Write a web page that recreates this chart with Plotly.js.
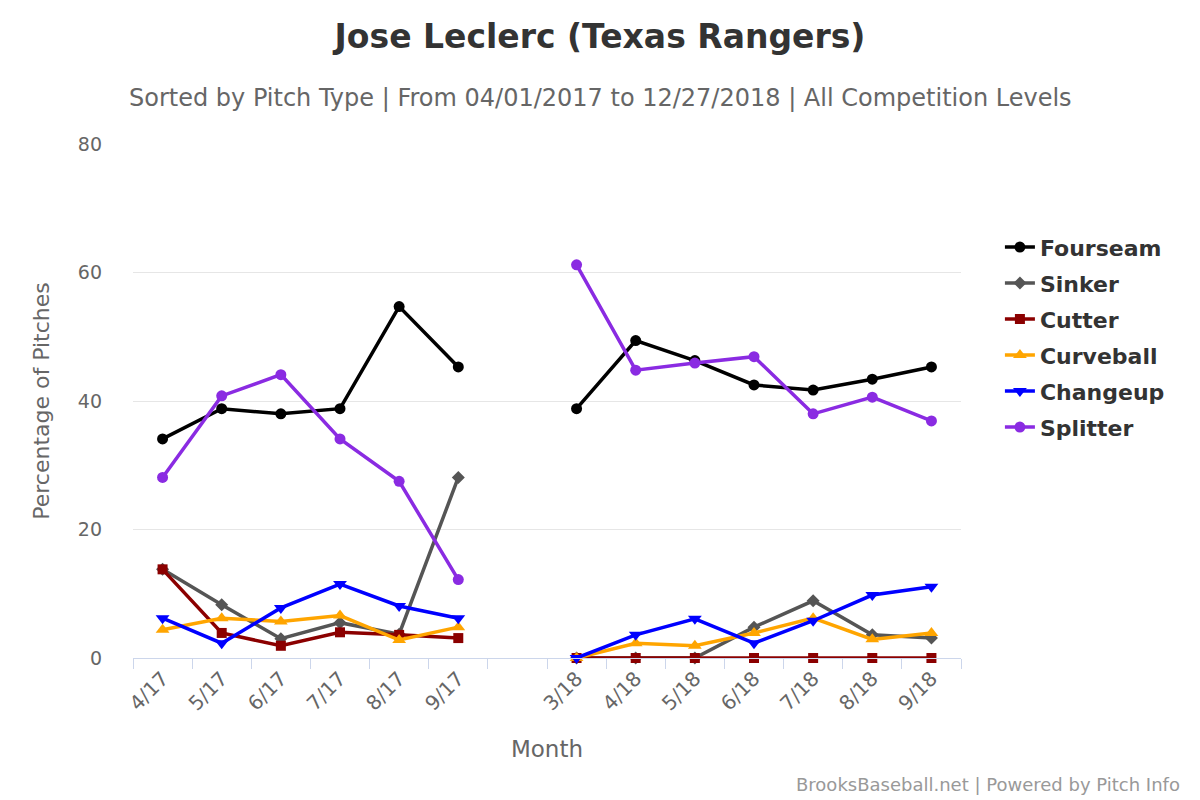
<!DOCTYPE html>
<html>
<head>
<meta charset="utf-8">
<script src="https://cdn.plot.ly/plotly-3.0.1.min.js"></script>
<style>
  body { margin: 0; background: #fff; }
  #chart { width: 1200px; height: 800px; }
</style>
</head>
<body>
<div id="chart"></div>
<script>
// months, with an empty slot between the two seasons
var months = ['4/17', '5/17', '6/17', '7/17', '8/17', '9/17', ' ',
              '3/18', '4/18', '5/18', '6/18', '7/18', '8/18', '9/18'];

var fourseam  = [34.1, 38.8, 38.0, 38.8, 54.7, 45.3, null, 38.8, 49.4, 46.3, 42.5, 41.7, 43.4, 45.3];
var sinker    = [13.8, 8.3, 3.0, 5.5, 3.7, 28.1, null, 0, 0, 0, 4.8, 8.9, 3.6, 3.1];
var cutter    = [13.8, 3.9, 1.9, 4.0, 3.6, 3.1, null, 0, 0, 0, 0, 0, 0, 0];
var curveball = [4.4, 6.2, 5.7, 6.6, 2.8, 4.8, null, 0, 2.3, 1.9, 3.9, 6.2, 2.9, 3.9];
var changeup  = [6.2, 2.3, 7.8, 11.5, 8.1, 6.2, null, 0, 3.6, 6.1, 2.3, 5.8, 9.8, 11.1];
var splitter  = [28.1, 40.8, 44.1, 34.1, 27.5, 12.2, null, 61.2, 44.8, 45.9, 46.9, 38.0, 40.6, 36.9];

var FONT = 'DejaVu Sans, sans-serif';

function series(name, values, color, symbol, size) {
    return {
        type: 'scatter',
        mode: 'lines+markers',
        name: name,
        legendgroup: name,
        x: months,
        y: values,
        cliponaxis: false,
        connectgaps: false,
        line: { color: color, width: 3.5 },
        marker: { color: color, symbol: symbol, size: size }
    };
}

var data = [
    series('Fourseam', fourseam, '#000000', 'circle', 11),
    series('Sinker', sinker, '#555555', 'diamond', 10),
    series('Cutter', cutter, '#8b0000', 'square', 10),
    series('Curveball', curveball, '#ffa500', 'triangle-up', 12),
    series('Changeup', changeup, '#0000ff', 'triangle-down', 12),
    series('Splitter', splitter, '#8a2be2', 'circle', 11)
];

var layout = {
    width: 1200,
    height: 800,
    margin: { l: 133, r: 239, t: 144, b: 142 },
    paper_bgcolor: '#ffffff',
    plot_bgcolor: '#ffffff',
    font: { family: FONT, color: '#666666' },
    title: {
        text: '<b>Jose Leclerc (Texas Rangers)</b>',
        font: { family: FONT, size: 33, color: '#333333' },
        x: 0.5, xref: 'container', xanchor: 'center',
        y: 0.954, yref: 'container', yanchor: 'middle'
    },
    xaxis: {
        type: 'category',
        categoryorder: 'array',
        categoryarray: months,
        range: [-0.5, months.length - 0.5],
        tickson: 'boundaries',
        ticks: 'outside',
        ticklen: 10,
        tickcolor: '#ccd6eb',
        tickwidth: 1,
        showline: true,
        linecolor: '#ccd6eb',
        linewidth: 1,
        showgrid: false,
        zeroline: false,
        tickangle: -45,
        tickfont: { family: FONT, size: 20, color: '#666666' },
        title: { text: 'Month', font: { family: FONT, size: 23, color: '#666666' }, standoff: 26 },
        fixedrange: true
    },
    yaxis: {
        range: [0, 80],
        tickvals: [0, 20, 40, 60, 80],
        showgrid: true,
        gridcolor: '#e6e6e6',
        gridwidth: 1,
        zeroline: false,
        showline: false,
        ticks: '',
        ticklabelstandoff: 30,
        tickfont: { family: FONT, size: 19, color: '#666666' },
        title: { text: 'Percentage of Pitches', font: { family: FONT, size: 22, color: '#666666' }, standoff: 22 },
        fixedrange: true
    },
    showlegend: true,
    legend: {
        x: 1.047, xanchor: 'left',
        y: 0.84, yanchor: 'top',
        traceorder: 'grouped',
        tracegroupgap: 4.4,
        font: { family: FONT, size: 22, color: '#333333', weight: 'bold' },
        bgcolor: 'rgba(0,0,0,0)'
    },
    annotations: [
        {
            text: 'Sorted by Pitch Type | From 04/01/2017 to 12/27/2018 | All Competition Levels',
            xref: 'paper', yref: 'paper',
            x: (600 - 133) / 828, y: (658 - 98) / 514, xanchor: 'center', yanchor: 'middle',
            showarrow: false,
            font: { family: FONT, size: 24, color: '#666666' }
        },
        {
            text: 'BrooksBaseball.net | Powered by Pitch Info',
            xref: 'paper', yref: 'paper',
            x: (1182 - 133) / 828, y: (658 - 784) / 514, xanchor: 'right', yanchor: 'middle',
            showarrow: false,
            font: { family: FONT, size: 18, color: '#999999' }
        }
    ]
};

Plotly.newPlot('chart', data, layout, { displayModeBar: false, staticPlot: true });
</script>
</body>
</html>
